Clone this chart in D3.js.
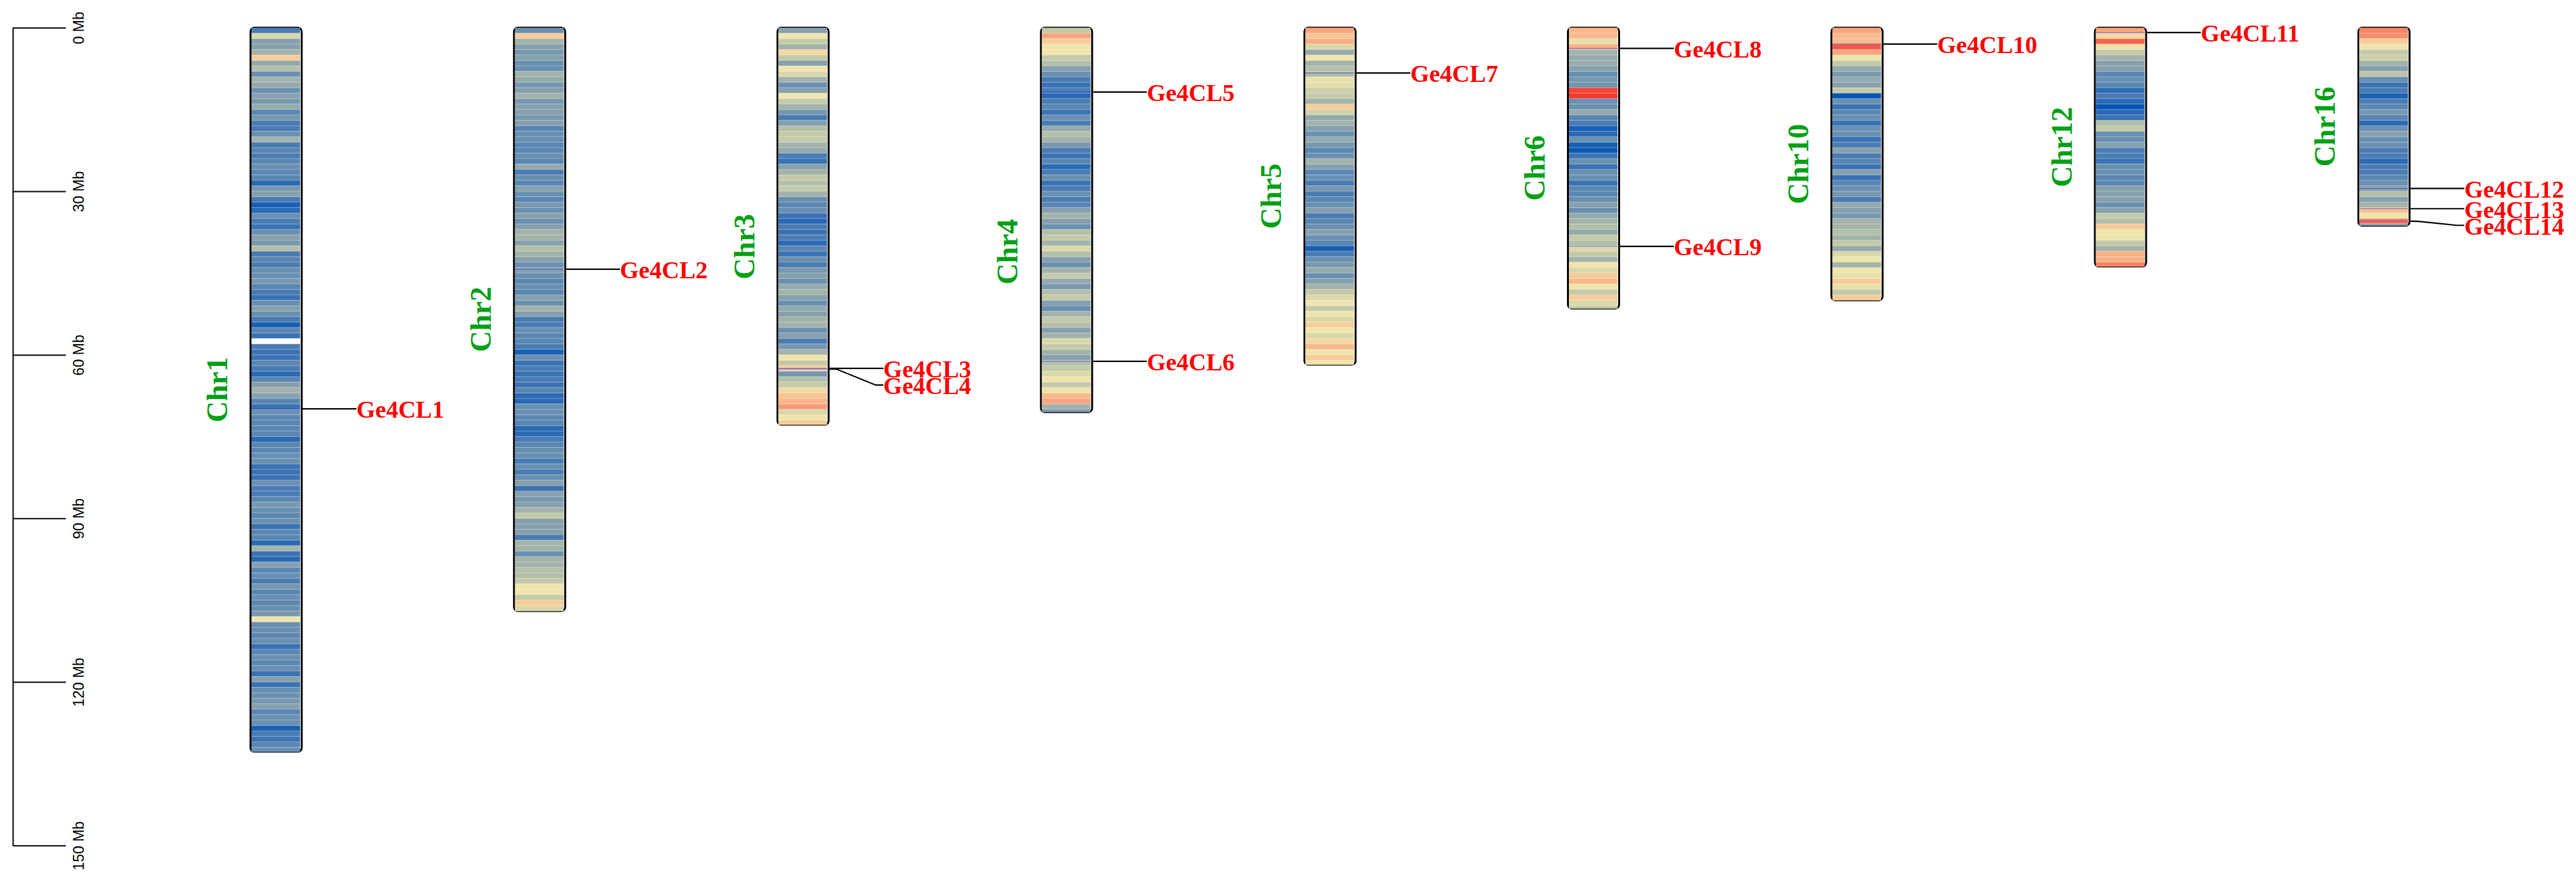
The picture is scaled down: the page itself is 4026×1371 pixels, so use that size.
<!DOCTYPE html>
<html>
<head>
<meta charset="utf-8">
<script src="https://cdn.jsdelivr.net/npm/d3@7"></script>
<style>
  html, body { margin: 0; padding: 0; background: #ffffff; }
  svg { display: block; }
</style>
</head>
<body>
<svg id="chart" width="4026" height="1371"></svg>
<script>
// ---------------- DATA ----------------
const chromosomes = ["Chr1","Chr2","Chr3","Chr4","Chr5","Chr6","Chr10","Chr12","Chr16"];
const chrLengthsMb = [132.8, 107.0, 72.8, 70.5, 61.8, 51.5, 50.0, 43.8, 36.3];

// gene density per 1 Mb bin (0 = lowest / deep blue ... 10 = highest / red; null = no data)
const chr1Density = [
  2, 6.5, 4, 4, 5, 8, 4.5, 5.5, 3, 5, 4.5, 3, 4, 3.5, 4.5, 2.5, 3.5, 2, 2, 3,
  5, 2, 2.5, 2, 2.5, 3, 2.5, 2.5, 1, 3.5,
  4, 2, 0.5, 1, 3, 2, 1.5, 3, 4, 3.5, 5.5, 2, 2.5, 2, 3, 3, 3.5, 2.5, 2, 1.5,
  3, 4, 3, 2, 0.5, 2.5, 1.5,
  null,
  2, 1.5,
  1.5, 2.5, 2, 1, 2.5, 4, 5, 4, 2.5, 1.5, 3, 2.5, 2.5, 2.5, 2.5, 1, 2.5,
  2.5, 3, 3, 1.5, 1.5, 1.5, 3, 2, 2, 2.5, 3.5, 3, 2.5, 3, 1.5, 2.5, 2.5, 1, 5, 1.5,
  1, 4, 2.5, 3, 2, 3.5, 2.5, 3, 2.5, 3, 3.5, 7, 3, 3, 2.5, 3, 1.5, 2.5, 3, 2.5,
  3, 1.5, 4, 1.5, 3, 3, 3.5,
  4, 2.5, 3, 3, 0.5, 2, 1.5, 2.5, 3
];
const chr2Density = [
  3, 8, 5, 4, 3.5, 4, 3, 3, 5, 4.5,
  3.5, 4, 5, 3.5, 4, 4, 3.5, 4, 2.5, 3,
  3, 2.5, 2.5, 3, 2.5, 4.5, 2, 3, 2.5, 4,
  3, 2.5, 3.5, 3, 4, 3, 4, 5, 5, 4,
  5.5, 5, 4, 3, 4, 3, 2.5, 3, 2.5, 4,
  3, 5, 4, 2, 2, 3, 2.5, 2.5, 2, 0.5,
  3, 1.5, 2, 1.5, 2, 1.5, 2.5, 1, 1, 3,
  3, 2.5, 2.5, 1, 1, 2, 2.5, 3, 3, 2,
  3, 2, 3, 4, 1.5, 4, 3.5, 4, 5, 6,
  4, 4, 4, 2, 5, 5, 3, 5, 5, 5.5,
  5.5, 6, 7, 7, 6, 8, 6.5
];
const chr3Density = [
  4, 7, 6, 5, 7.5, 6, 4, 7, 6.5, 5,
  3, 4, 7, 6, 5, 3.5, 2, 4, 5.5, 6,
  6, 5, 4.5, 2, 1.5, 4, 5, 6, 5.5, 6,
  5, 3, 2.5, 3, 1.5, 1, 2, 1.5, 2, 1,
  2.5, 1.5, 3, 2, 3.5, 4, 3, 4.5, 5, 4,
  3, 4.5, 4, 5,
  5, 3, 4, 2, 3.5, 5, 7, 6, 8, 3.5,
  5.5, 6, 7.5, 8.2, 8.6, 9.1, 6.5, 7, 8
];
const chr4Density = [
  6, 9, 8, 7, 7, 6, 5.5, 4, 3, 2,
  1.5, 2, 1, 2, 2.5, 1.5, 3, 2, 4.5, 5.5,
  5, 3.5, 2, 1.5, 2.5, 1, 2, 3, 1.5, 2,
  3, 2, 2.5, 4, 5, 4, 3, 5.5, 6, 5,
  6.5, 5.5, 4, 3, 5, 6, 4.5, 3.5, 5.5, 6,
  4, 3, 5, 6, 5.5, 4, 5, 6.5, 6, 5,
  4, 5.5, 6, 6.5, 7, 6, 7, 8.5, 9, 5,
  3.5
];
const chr5Density = [
  9, 8.2, 8.8, 6.5, 4.5, 7, 5, 5.5, 5.3, 6.8,
  6.7, 6.2, 6, 5, 8, 6.3, 4.5, 5, 4, 3,
  4.5, 3.5, 2.5, 3, 5, 4, 2.5, 3, 2, 3.5,
  2, 2.5, 3, 4, 2, 2.5, 3, 4, 3, 2.5,
  0.5, 2, 3, 3.5, 4.5, 3, 4, 5, 6, 6.5,
  7, 6, 7, 6.5, 8, 7, 6.5, 7.5, 8.5, 7,
  8, 7
];
const chr6Density = [
  8.5, 8.5, 6.8, 8.7, 5, 4.5, 4.7, 4, 3, 3.5,
  3.3, 9.9, 10, 3, 3, 4.5, 2.5, 2, 0.5, 1,
  3, 0.5, 0.2, 1.5, 3, 1.5, 3, 3, 1.5, 2.5,
  2.5, 3, 4, 3, 4.5, 5, 5.5, 4.5, 6, 5.5,
  6.5, 6, 5, 7, 6.5, 8, 8.5, 7, 6, 8,
  6.5, 6
];
const chr10Density = [
  9, 8.5, 8.5, 9.7, 9, 7, 6, 4.5, 3.5, 4.5,
  4, 6, 0, 3, 1.5, 2.5, 3, 1.5, 3, 3,
  1.5, 2, 4, 2, 2.5, 1.5, 4, 1.5, 2.5, 3,
  3.5, 2, 4.5, 4, 3.5, 5, 5, 5.5, 5, 6,
  4.5, 6.5, 7, 5, 7, 6.8, 8, 6.8, 6, 8
];
const chr12Density = [
  9, 7.5, 9.6, 7.2, 6, 5, 4, 4, 2.5, 3,
  2.5, 1, 2, 1, 0, 1, 1.5, 5.5, 6, 3,
  3, 4, 2, 2, 1.5, 3, 3, 2.5, 2.5, 4,
  4, 4, 3, 4, 6, 5.5, 8, 7, 7, 6,
  5, 8.7, 8.7, 9.3
];
const chr16Density = [
  9.3, 9.2, 8, 7, 6, 6.2, 5, 4, 5.8, 3,
  1.5, 2, 0.5, 2, 2.5, 3.5, 2.5, 1, 3, 4,
  3, 3, 2, 2, 1, 2, 2, 2.5, 3, 4,
  5.5, 4, 5, 8.3, 7, 9.4, 3.5
];

const geneNames = ["Ge4CL1","Ge4CL2","Ge4CL3","Ge4CL4","Ge4CL5","Ge4CL6","Ge4CL7",
                   "Ge4CL8","Ge4CL9","Ge4CL10","Ge4CL11","Ge4CL12","Ge4CL13","Ge4CL14"];
const geneChr   = ["Chr1","Chr2","Chr3","Chr3","Chr4","Chr4","Chr5",
                   "Chr6","Chr6","Chr10","Chr12","Chr16","Chr16","Chr16"];
const genePosMb = [69.9, 44.3, 62.5, 62.6, 11.8, 61.2, 8.3,
                   3.8, 40.1, 3.0, 0.9, 29.5, 33.2, 35.5];

const axisTicksMb = [0, 30, 60, 90, 120, 150];
const axisTickLabel = d => d + " Mb";

// ---------------- LAYOUT / STYLE ----------------
const densityByChr = [chr1Density, chr2Density, chr3Density, chr4Density, chr5Density,
                      chr6Density, chr10Density, chr12Density, chr16Density];
const chrOuterW = 83;      // outer width incl. border
const bandInset = 3;
const labelGap = 84;       // leader line length
const labelMinSpacing = 26;
const chrLabelShift = { Chr3: 32, Chr4: 50 };   // px
const serif = "'Liberation Serif','Times New Roman',Times,serif";
const sans = "'Liberation Sans',Arial,Helvetica,sans-serif";

const svg = d3.select("#chart");
svg.append("rect").attr("width", 4026).attr("height", 1371).attr("fill", "#ffffff");

const y = d3.scaleLinear().domain([0, 150]).range([43.3, 1321.7]);
const x = d3.scalePoint().domain(chromosomes).range([390, 390 + 411.8 * 8]);

const color = d3.scaleLinear()
  .domain(d3.range(11))
  .range(["#0556b4", "#2a69b4", "#4a7cb3", "#6990b1", "#86a0ad", "#a3b3aa",
          "#c4caa9", "#efe5ac", "#f7cc98", "#f8a57f", "#f4382c"])
  .clamp(true);

// ---------------- AXIS ----------------
const axisG = svg.append("g").attr("transform", "translate(20,0)");
axisG.call(d3.axisRight(y).tickValues(axisTicksMb).tickSize(83).tickSizeOuter(0).tickFormat(axisTickLabel));
axisG.select(".domain").attr("stroke", "#000").attr("stroke-width", 2);
axisG.selectAll(".tick line").attr("stroke", "#000").attr("stroke-width", 2);
axisG.selectAll(".tick text")
  .attr("x", null).attr("dy", null)
  .attr("transform", "translate(111,0) rotate(-90)")
  .attr("text-anchor", "middle")
  .attr("font-family", sans)
  .attr("font-size", 23)
  .attr("fill", "#000");

// ---------------- CHROMOSOMES ----------------
chromosomes.forEach((name, ci) => {
  const len = chrLengthsMb[ci];
  const vals = densityByChr[ci];
  const x0 = x(name);
  const g = svg.append("g").attr("class", "chr");

  // outline (drawn first, bands cover its top/bottom)
  g.append("rect")
    .attr("x", x0 + 1.5).attr("y", y(0))
    .attr("width", chrOuterW - 3).attr("height", y(len) - y(0))
    .attr("rx", 6).attr("ry", 6)
    .attr("fill", "none").attr("stroke", "#000").attr("stroke-width", 3);

  const bins = vals.map((v, i) => ({ v, s: i, e: Math.min(i + 1, len) })).filter(b => b.s < len);
  g.selectAll("rect.band").data(bins).enter().append("rect")
    .attr("class", "band")
    .attr("x", x0 + bandInset)
    .attr("y", d => y(d.s))
    .attr("width", chrOuterW - 2 * bandInset - 1)
    .attr("height", d => y(d.e) - y(d.s) + 0.3)
    .attr("fill", d => d.v === null ? "#ffffff" : color(d.v));

  g.selectAll("line.sep").data(bins.slice(1)).enter().append("line")
    .attr("class", "sep")
    .attr("x1", x0 + bandInset).attr("x2", x0 + chrOuterW - bandInset - 1)
    .attr("y1", d => y(d.s)).attr("y2", d => y(d.s))
    .attr("stroke", "#ffffff").attr("stroke-opacity", 0.35).attr("stroke-width", 1);

  // chromosome name
  const midY = (y(0) + y(len)) / 2 + (chrLabelShift[name] || 0);
  svg.append("text")
    .attr("transform", `translate(${x0 - 35},${midY}) rotate(-90)`)
    .attr("text-anchor", "middle")
    .attr("font-family", serif).attr("font-weight", "bold")
    .attr("font-size", 46).attr("fill", "#00a014")
    .text(name);
});

// ---------------- GENES ----------------
const genes = geneNames.map((n, i) => ({ name: n, chr: geneChr[i], pos: genePosMb[i] }));
const byChr = d3.group(genes, d => d.chr);
byChr.forEach(list => {
  list.sort((a, b) => a.pos - b.pos);
  let prev = -Infinity;
  list.forEach(g => {
    g.gy = y(g.pos);
    g.ly = Math.max(g.gy, prev + labelMinSpacing);
    prev = g.ly;
  });
});

const gg = svg.append("g").attr("class", "genes");
genes.forEach(g => {
  const x0 = x(g.chr);
  const edge = x0 + chrOuterW;
  const lx = edge + labelGap;
  // marker across chromosome
  gg.append("line")
    .attr("x1", x0 + bandInset).attr("x2", edge - bandInset - 1)
    .attr("y1", g.gy).attr("y2", g.gy)
    .attr("stroke", "#1a1aff").attr("stroke-opacity", 0.6).attr("stroke-width", 1);
  const path = d3.path();
  path.moveTo(edge, g.gy);
  if (Math.abs(g.ly - g.gy) < 0.5) {
    path.lineTo(lx, g.ly);
  } else {
    path.lineTo(edge + 10, g.gy);
    path.lineTo(lx - 12, g.ly);
    path.lineTo(lx, g.ly);
  }
  gg.append("path").attr("d", path.toString())
    .attr("fill", "none").attr("stroke", "#000").attr("stroke-width", 2.2);
  gg.append("text")
    .attr("x", lx).attr("y", g.ly).attr("dy", "0.38em")
    .attr("font-family", serif).attr("font-weight", "bold")
    .attr("font-size", 38).attr("fill", "#ff0000")
    .text(g.name);
});
</script>
</body>
</html>
